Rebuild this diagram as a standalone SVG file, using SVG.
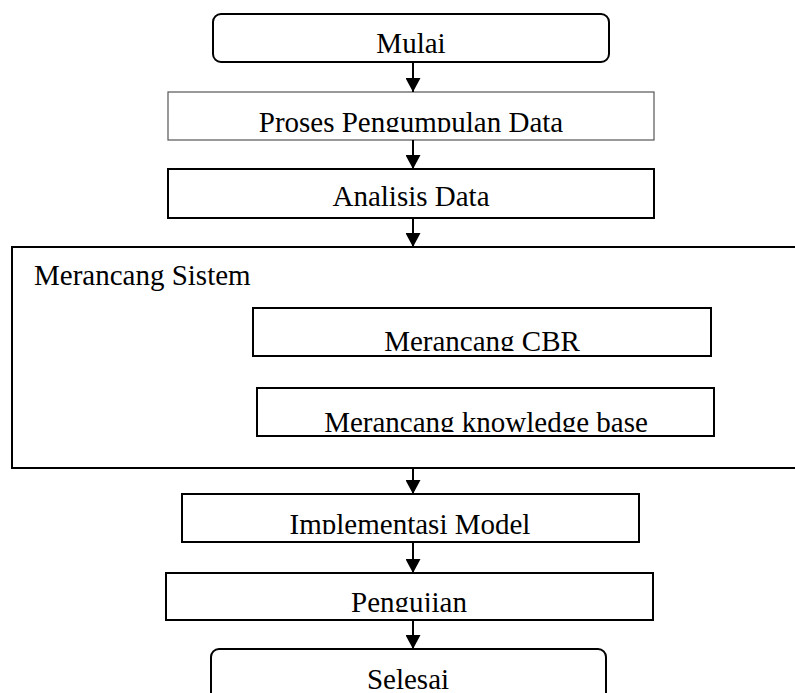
<svg xmlns="http://www.w3.org/2000/svg" width="795" height="693" viewBox="0 0 795 693">
  <style>
    .box { fill: #ffffff; stroke: #000000; stroke-width: 2; }
    .thin { fill: #ffffff; stroke: #555555; stroke-width: 1.2; }
    .lbl { font-family: "Liberation Serif", "Times New Roman", serif; font-size: 29px; fill: #000000; }
    .mid { text-anchor: middle; }
    .link { stroke: #000000; stroke-width: 2; fill: none; marker-end: url(#head); }
  </style>
  <defs>
    <marker id="head" viewBox="0 0 14 15" refX="14" refY="7.5" markerWidth="14" markerHeight="15" markerUnits="userSpaceOnUse" orient="auto">
      <path d="M0,0 L14,7.5 L0,15 Z" fill="#000000"/>
    </marker>
    <!-- text areas: labels are cut off just under their baselines -->
    <clipPath id="c-mulai"><rect x="213" y="14" width="396" height="39"/></clipPath>
    <clipPath id="c-proses"><rect x="168" y="92" width="486" height="40"/></clipPath>
    <clipPath id="c-cbr"><rect x="253" y="308" width="458" height="43"/></clipPath>
    <clipPath id="c-kb"><rect x="257" y="388" width="457" height="44"/></clipPath>
    <clipPath id="c-impl"><rect x="182" y="494" width="457" height="40"/></clipPath>
    <clipPath id="c-uji"><rect x="166" y="573" width="487" height="39"/></clipPath>
    <clipPath id="c-selesai"><rect x="211" y="649" width="395" height="40"/></clipPath>
  </defs>

  <rect width="795" height="693" fill="#ffffff"/>

  <g id="mulai">
    <rect class="box" x="213" y="14" width="396" height="48" rx="8" ry="8"/>
    <text class="lbl mid" x="411" y="53" clip-path="url(#c-mulai)">Mulai</text>
  </g>

  <g id="pengumpulan">
    <rect class="thin" x="168" y="92" width="486" height="48"/>
    <text class="lbl mid" x="411" y="132" clip-path="url(#c-proses)">Proses Pengumpulan Data</text>
  </g>

  <g id="analisis">
    <rect class="box" x="168" y="169" width="486" height="49"/>
    <text class="lbl mid" x="411" y="206">Analisis Data</text>
  </g>

  <g id="merancang-sistem">
    <rect class="box" x="12" y="247" width="800" height="221" stroke-width="2.5"/>
    <text class="lbl" x="34" y="285">Merancang Sistem</text>
  </g>

  <g id="merancang-cbr">
    <rect class="box" x="253" y="308" width="458" height="48"/>
    <text class="lbl mid" x="482" y="351" clip-path="url(#c-cbr)">Merancang CBR</text>
  </g>

  <g id="merancang-kb">
    <rect class="box" x="257" y="388" width="457" height="48"/>
    <text class="lbl mid" x="486" y="432" clip-path="url(#c-kb)">Merancang knowledge base</text>
  </g>

  <g id="implementasi">
    <rect class="box" x="182" y="494" width="457" height="48"/>
    <text class="lbl mid" x="410" y="534" clip-path="url(#c-impl)">Implementasi Model</text>
  </g>

  <g id="pengujian">
    <rect class="box" x="166" y="573" width="487" height="47"/>
    <text class="lbl mid" x="409" y="612" clip-path="url(#c-uji)">Pengujian</text>
  </g>

  <g id="selesai">
    <rect class="box" x="211" y="649" width="395" height="60" rx="8" ry="8"/>
    <text class="lbl mid" x="408" y="689" clip-path="url(#c-selesai)">Selesai</text>
  </g>

  <g id="connectors">
    <line class="link" x1="413" y1="62" x2="413" y2="92"/>
    <line class="link" x1="413" y1="140" x2="413" y2="169"/>
    <line class="link" x1="413" y1="218" x2="413" y2="247"/>
    <line class="link" x1="413" y1="468" x2="413" y2="494"/>
    <line class="link" x1="413" y1="542" x2="413" y2="573"/>
    <line class="link" x1="413" y1="620" x2="413" y2="649"/>
  </g>
</svg>
